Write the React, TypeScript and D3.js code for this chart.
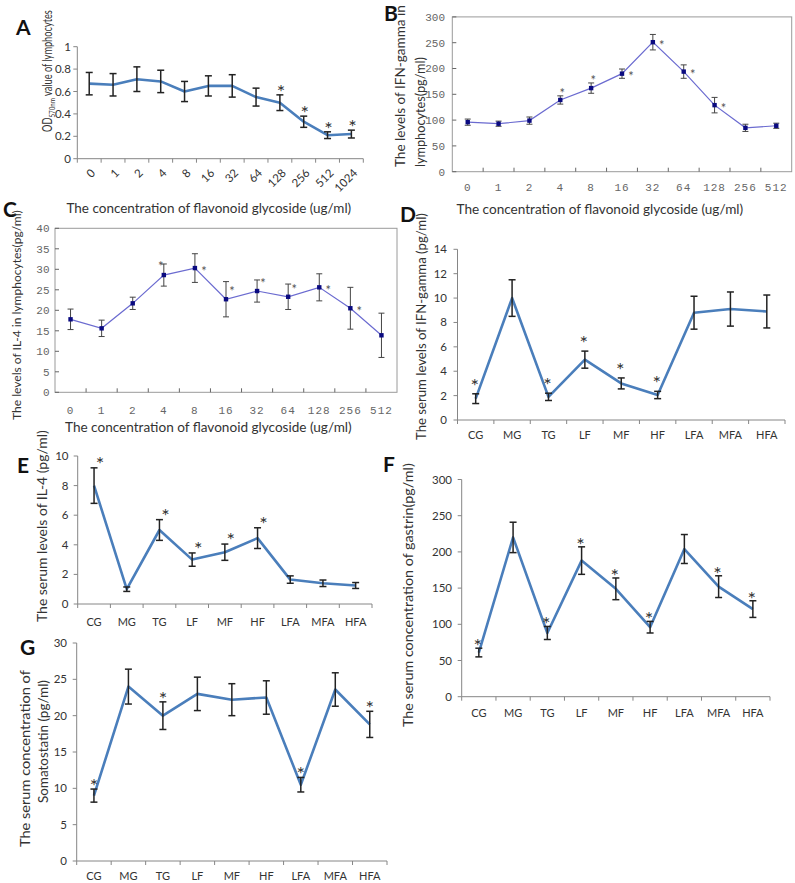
import React, { useLayoutEffect, useRef, useState } from "react";
import * as d3 from "d3";

// ---------- data ----------
const concA = ["0", "1", "2", "4", "8", "16", "32", "64", "128", "256", "512", "1024"];
const odMean = [0.67, 0.66, 0.71, 0.69, 0.6, 0.65, 0.65, 0.55, 0.5, 0.33, 0.21, 0.22];
const odErr = [0.1, 0.1, 0.11, 0.1, 0.09, 0.09, 0.1, 0.08, 0.07, 0.05, 0.03, 0.035];
const odSig = ["", "", "", "", "", "", "", "", "a", "a", "a", "a"];

const concB = ["0", "1", "2", "4", "8", "16", "32", "64", "128", "256", "512"];
const ifnLymMean = [96, 93, 99, 139, 162, 190, 251, 194, 129, 85, 89];
const ifnLymErr = [6, 5, 7, 8, 10, 9, 15, 13, 15, 7, 5];
const ifnLymSig = ["", "", "", "a", "a", "r", "r", "r", "r", "", ""];

const il4LymMean = [17.8, 15.6, 21.7, 28.6, 30.3, 22.7, 24.7, 23.3, 25.6, 20.5, 13.9];
const il4LymErr = [2.5, 2, 1.5, 2.7, 3.5, 4.3, 2.7, 3.1, 3.3, 5.1, 5.4];
const il4LymSig = ["", "", "", "al", "r", "ar", "ar", "ar", "r", "r", ""];

const groups = ["CG", "MG", "TG", "LF", "MF", "HF", "LFA", "MFA", "HFA"];
const ifnSerMean = [1.75, 10, 1.9, 4.95, 3.0, 2.05, 8.8, 9.1, 8.9];
const ifnSerErr = [0.4, 1.5, 0.3, 0.7, 0.45, 0.3, 1.35, 1.4, 1.35];
const ifnSerSig = ["a", "", "a", "a", "a", "a", "", "", ""];

const il4SerMean = [8.0, 1.0, 5.0, 3.0, 3.5, 4.45, 1.65, 1.4, 1.25];
const il4SerErr = [1.2, 0.15, 0.7, 0.45, 0.55, 0.7, 0.25, 0.22, 0.2];
const il4SerSig = ["a", "", "a", "a", "a", "a", "", "", ""];

const gastrinMean = [61, 220, 88, 188, 149, 96, 204, 152, 121];
const gastrinErr = [6, 21, 9, 19, 15, 8, 20, 15, 11.5];
const gastrinSig = ["a", "", "a", "a", "a", "a", "", "a", "a"];

const somatoMean = [9.0, 24, 20, 23, 22.2, 22.5, 10.5, 23.6, 18.8];
const somatoErr = [0.9, 2.4, 1.9, 2.3, 2.2, 2.3, 1.0, 2.3, 1.8];
const somatoSig = ["a", "", "a", "", "", "", "a", "", "a"];

const xTitleConc = "The concentration of flavonoid glycoside (ug/ml)";

// ---------- styles ----------
const FONT = "Lato, 'Open Sans', sans-serif";
const MONO = "'Liberation Mono', 'DejaVu Sans Mono', monospace";
const EXCEL_BLUE = "#4a7ebb";
const ORIGIN_LINE = "#6b6bd0";

type PanelProps = {
  cats: string[];
  mean: number[];
  err: number[];
  sig: string[];
  x0: number;
  x1: number;
  yB: number;
  yT: number;
  yMax: number;
  nTicks: number;
  yLabelX: number;
  xLabelY: number;
  rotateX?: boolean;
  starGap?: number;
  starDx?: number;
};

function ExcelPanel(p: PanelProps) {
  const x = d3.scaleBand<string>().domain(p.cats).range([p.x0, p.x1]);
  const y = d3.scaleLinear().domain([0, p.yMax]).range([p.yB, p.yT]);
  const ticks = d3.ticks(0, p.yMax, p.nTicks);
  const cx = (i: number) => (x(p.cats[i]) as number) + x.bandwidth() / 2;
  const line = d3
    .line<number>()
    .x((_, i) => cx(i))
    .y((d) => y(d));
  const bounds = p.cats.map((c) => x(c) as number).concat([p.x1]);
  const gap = p.starGap ?? 8;
  const sdx = p.starDx ?? 1;
  const starSize = 20;
  return (
    <g>
      <line x1={p.x0} x2={p.x0} y1={p.yB} y2={p.yT} stroke="#868686" strokeWidth={1} />
      <line x1={p.x0} x2={p.x1} y1={p.yB} y2={p.yB} stroke="#868686" strokeWidth={1} />
      {ticks.map((t) => (
        <g key={"yt" + t}>
          <line x1={p.x0 - 4} x2={p.x0} y1={y(t)} y2={y(t)} stroke="#868686" />
          <text
            x={p.yLabelX}
            y={y(t)}
            dy="0.35em"
            textAnchor="end"
            fontFamily={FONT}
            fontSize={11.5}
            fill="#333"
          >
            {String(t)}
          </text>
        </g>
      ))}
      {bounds.map((b, i) => (
        <line key={"xt" + i} x1={b} x2={b} y1={p.yB} y2={p.yB + 4} stroke="#868686" />
      ))}
      {p.cats.map((c, i) =>
        p.rotateX ? (
          <text
            key={"xl" + c}
            transform={`translate(${cx(i) + 4},${p.xLabelY}) rotate(-45)`}
            dy="0.35em"
            textAnchor="end"
            fontFamily={FONT}
            fontSize={11.5}
            fill="#333"
          >
            {c}
          </text>
        ) : (
          <text
            key={"xl" + c}
            x={cx(i)}
            y={p.xLabelY}
            dy="0.35em"
            textAnchor="middle"
            fontFamily={FONT}
            fontSize={11}
            fill="#333"
          >
            {c}
          </text>
        )
      )}
      <path d={line(p.mean) || ""} fill="none" stroke={EXCEL_BLUE} strokeWidth={2.6} strokeLinejoin="round" />
      {p.mean.map((m, i) => {
        const top = y(m + p.err[i]);
        const bot = y(m - p.err[i]);
        const X = cx(i);
        return (
          <g key={"eb" + i} stroke="#222" strokeWidth={1.5}>
            <line x1={X} x2={X} y1={top} y2={bot} />
            <line x1={X - 3.5} x2={X + 3.5} y1={top} y2={top} />
            <line x1={X - 3.5} x2={X + 3.5} y1={bot} y2={bot} />
          </g>
        );
      })}
      {p.mean.map((m, i) =>
        p.sig[i] ? (
          <text
            key={"st" + i}
            x={cx(i) + sdx}
            y={y(m + p.err[i]) - gap + starSize * 0.6}
            textAnchor="middle"
            fontFamily={FONT}
            fontSize={starSize}
            fill="#333"
          >
            *
          </text>
        ) : null
      )}
    </g>
  );
}

function OriginPanel(p: PanelProps) {
  const x = d3.scaleBand<string>().domain(p.cats).range([p.x0, p.x1]);
  const y = d3.scaleLinear().domain([0, p.yMax]).range([p.yB, p.yT]);
  const ticks = d3.ticks(0, p.yMax, p.nTicks);
  const cx = (i: number) => (x(p.cats[i]) as number) + x.bandwidth() / 2;
  const line = d3
    .line<number>()
    .x((_, i) => cx(i))
    .y((d) => y(d));
  const inner = p.cats.slice(1).map((c) => x(c) as number);
  const starSize = 13;
  const starPos = (i: number) => {
    const s = p.sig[i];
    const m = p.mean[i];
    const top = y(m + p.err[i]);
    const py = y(m);
    if (s === "a") return [cx(i) + 2, top - 6];
    if (s === "al") return [cx(i) - 3, top - 1];
    if (s === "ar") return [cx(i) + 6, py - 11];
    return [cx(i) + 9, py];
  };
  return (
    <g>
      <rect
        x={p.x0}
        y={p.yT}
        width={p.x1 - p.x0}
        height={p.yB - p.yT}
        fill="none"
        stroke="#9a9a9a"
        strokeWidth={1}
      />
      {ticks.map((t) => (
        <g key={"yt" + t}>
          <line x1={p.x0} x2={p.x0 + 4} y1={y(t)} y2={y(t)} stroke="#666" />
          <text
            x={p.yLabelX}
            y={y(t)}
            dy="0.35em"
            textAnchor="end"
            fontFamily={MONO}
            fontSize={11}
            fill="#666"
          >
            {String(t)}
          </text>
        </g>
      ))}
      {inner.map((b, i) => (
        <line key={"xt" + i} x1={b} x2={b} y1={p.yB} y2={p.yB - 4} stroke="#666" />
      ))}
      {p.cats.map((c, i) => (
        <text
          key={"xl" + c}
          x={cx(i)}
          y={p.xLabelY}
          dy="0.35em"
          textAnchor="middle"
          fontFamily={MONO}
          fontSize={11}
          letterSpacing={1}
          fill="#666"
        >
          {c}
        </text>
      ))}
      <path d={line(p.mean) || ""} fill="none" stroke={ORIGIN_LINE} strokeWidth={1.2} />
      {p.mean.map((m, i) => {
        const top = y(m + p.err[i]);
        const bot = y(m - p.err[i]);
        const X = cx(i);
        return (
          <g key={"eb" + i} stroke="#444" strokeWidth={1}>
            <line x1={X} x2={X} y1={top} y2={bot} />
            <line x1={X - 3} x2={X + 3} y1={top} y2={top} />
            <line x1={X - 3} x2={X + 3} y1={bot} y2={bot} />
          </g>
        );
      })}
      {p.mean.map((m, i) => (
        <rect key={"mk" + i} x={cx(i) - 2.2} y={y(m) - 2.2} width={4.4} height={4.4} fill="#0a0a80" />
      ))}
      {p.mean.map((_, i) => {
        if (!p.sig[i]) return null;
        const [sx, sy] = starPos(i);
        return (
          <text
            key={"st" + i}
            x={sx}
            y={sy + starSize * 0.6}
            textAnchor="middle"
            fontFamily={FONT}
            fontSize={starSize}
            fill="#555"
          >
            *
          </text>
        );
      })}
    </g>
  );
}

// Text fitted to a target length by scaling along its direction (so its box is the drawn one).
function FitText(props: {
  x: number;
  y: number;
  len: number;
  size: number;
  vertical?: boolean;
  children: React.ReactNode;
}) {
  const ref = useRef<SVGTextElement>(null);
  const [sx, setSx] = useState(1);
  useLayoutEffect(() => {
    if (ref.current) {
      const w = ref.current.getComputedTextLength();
      if (w > 0) setSx(props.len / w);
    }
  }, [props.len]);
  const rot = props.vertical ? " rotate(-90)" : "";
  return (
    <text
      ref={ref}
      transform={`translate(${props.x},${props.y})${rot} scale(${sx},1)`}
      fontFamily={FONT}
      fontSize={props.size}
      fill="#333"
    >
      {props.children}
    </text>
  );
}

function VText(props: { x: number; bottom: number; len: number; size: number; children: React.ReactNode }) {
  return (
    <FitText x={props.x + props.size * 0.35} y={props.bottom} len={props.len} size={props.size} vertical>
      {props.children}
    </FitText>
  );
}

function HText(props: { cx: number; cy: number; len: number; size: number; children: React.ReactNode }) {
  return (
    <FitText x={props.cx - props.len / 2} y={props.cy + props.size * 0.35} len={props.len} size={props.size}>
      {props.children}
    </FitText>
  );
}

function Letter(props: { x: number; y: number; children: React.ReactNode }) {
  return (
    <text x={props.x} y={props.y} fontFamily={FONT} fontWeight="bold" fontSize={21} fill="#111">
      {props.children}
    </text>
  );
}

export default function App() {
  return (
    <svg
      width={795}
      height={883}
      style={{ position: "absolute", left: 0, top: 0, background: "#fff" }}
    >
      <rect x={0} y={0} width={795} height={883} fill="#fff" />

      {/* Panel A */}
      <ExcelPanel
        cats={concA}
        mean={odMean}
        err={odErr}
        sig={odSig}
        x0={77.3}
        x1={363.3}
        yB={158.7}
        yT={46.7}
        yMax={1}
        nTicks={5}
        yLabelX={71}
        xLabelY={171}
        rotateX
        starGap={8}
        starDx={1}
      />
      <Letter x={16} y={35}>A</Letter>
      <FitText x={51.5} y={132} len={122} size={12.5} vertical>
        OD
        <tspan fontSize={8.5} dy={3}>
          570nm
        </tspan>
        <tspan dy={-3}> value of lymphocytes</tspan>
      </FitText>
      <HText cx={209} cy={208} len={285} size={14}>
        {xTitleConc}
      </HText>

      {/* Panel B */}
      <OriginPanel
        cats={concB}
        mean={ifnLymMean}
        err={ifnLymErr}
        sig={ifnLymSig}
        x0={452.3}
        x1={791.7}
        yB={171.7}
        yT={16.9}
        yMax={300}
        nTicks={6}
        yLabelX={445}
        xLabelY={187}
      />
      <Letter x={384} y={21}>B</Letter>
      <VText x={400} bottom={167} len={162} size={13}>
        The  levels of IFN-gamma in
      </VText>
      <VText x={420} bottom={167} len={110} size={13}>
        lymphocytes(pg/ml)
      </VText>
      <HText cx={600} cy={209} len={287} size={14}>
        {xTitleConc}
      </HText>

      {/* Panel C */}
      <OriginPanel
        cats={concB}
        mean={il4LymMean}
        err={il4LymErr}
        sig={il4LymSig}
        x0={55}
        x1={397}
        yB={392.3}
        yT={228.3}
        yMax={40}
        nTicks={8}
        yLabelX={49.5}
        xLabelY={410}
      />
      <Letter x={3} y={217}>C</Letter>
      <VText x={17} bottom={420} len={210} size={12}>
        The  levels of IL-4 in lymphocytes(pg/ml)
      </VText>
      <HText cx={208.5} cy={427} len={287} size={14}>
        {xTitleConc}
      </HText>

      {/* Panel D */}
      <ExcelPanel
        cats={groups}
        mean={ifnSerMean}
        err={ifnSerErr}
        sig={ifnSerSig}
        x0={457.5}
        x1={785}
        yB={420}
        yT={249.3}
        yMax={14}
        nTicks={7}
        yLabelX={447}
        xLabelY={435}
        starGap={13}
        starDx={-1}
      />
      <Letter x={400} y={222}>D</Letter>
      <VText x={421.7} bottom={440} len={227} size={13.5}>
        The serum levels of IFN-gamma (pg/ml)
      </VText>

      {/* Panel E */}
      <ExcelPanel
        cats={groups}
        mean={il4SerMean}
        err={il4SerErr}
        sig={il4SerSig}
        x0={77.7}
        x1={372}
        yB={604}
        yT={456}
        yMax={10}
        nTicks={5}
        yLabelX={68.5}
        xLabelY={621.7}
        starGap={9}
        starDx={6}
      />
      <Letter x={17} y={473}>E</Letter>
      <VText x={42.7} bottom={622} len={192} size={13.5}>
        The serum levels of IL-4 (pg/ml)
      </VText>

      {/* Panel F */}
      <ExcelPanel
        cats={groups}
        mean={gastrinMean}
        err={gastrinErr}
        sig={gastrinSig}
        x0={461.7}
        x1={770}
        yB={696.7}
        yT={479.5}
        yMax={300}
        nTicks={6}
        yLabelX={452}
        xLabelY={713.3}
        starGap={7}
        starDx={-1}
      />
      <Letter x={383} y={472}>F</Letter>
      <VText x={408} bottom={727} len={264} size={13.5}>
        The serum concentration of gastrin(pg/ml)
      </VText>

      {/* Panel G */}
      <ExcelPanel
        cats={groups}
        mean={somatoMean}
        err={somatoErr}
        sig={somatoSig}
        x0={76.7}
        x1={387}
        yB={861}
        yT={643}
        yMax={30}
        nTicks={6}
        yLabelX={67}
        xLabelY={876.5}
        starGap={8}
        starDx={0}
      />
      <Letter x={20} y={655}>G</Letter>
      <VText x={25} bottom={847} len={177} size={14}>
        The serum concentration of
      </VText>
      <VText x={43.3} bottom={803} len={123} size={14}>
        Somatostatin  (pg/ml)
      </VText>
    </svg>
  );
}
